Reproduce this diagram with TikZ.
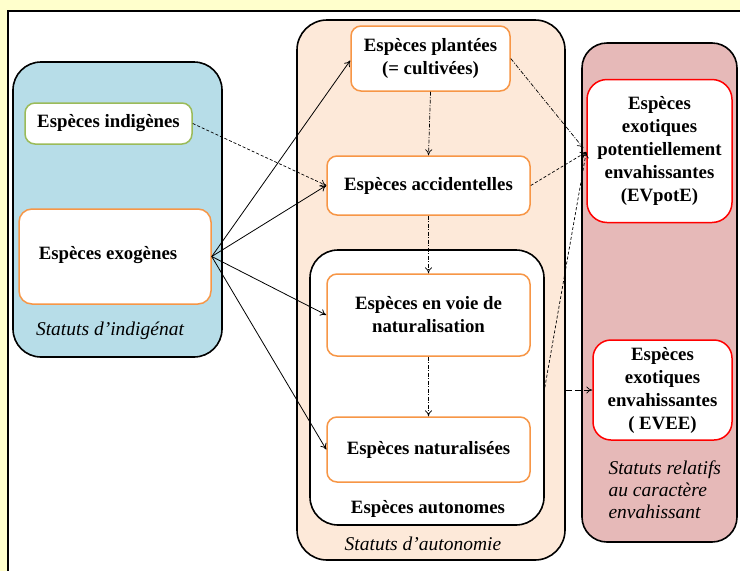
\documentclass[tikz,border=0pt]{standalone}
\usepackage{fontspec}
\setmainfont{Liberation Serif}
\usetikzlibrary{arrows.meta,calc}
\definecolor{bgyellow}{RGB}{255,255,204}
\definecolor{bluefill}{RGB}{183,221,232}
\definecolor{peachfill}{RGB}{253,233,217}
\definecolor{pinkfill}{RGB}{230,185,184}
\definecolor{boxorange}{RGB}{247,150,70}
\definecolor{boxgreen}{RGB}{155,187,89}
\definecolor{boxred}{RGB}{255,0,0}
\tikzset{
  lbl/.style={font=\fontsize{18.8}{23}\selectfont\bfseries, align=center},
  ital/.style={font=\fontsize{19.5}{22}\selectfont\itshape},
  obox/.style={draw=boxorange, line width=1.5pt, fill=white, rounded corners=10pt, inner sep=0pt, lbl},
  rbox/.style={draw=boxred, line width=1.5pt, fill=white, rounded corners=20pt, inner sep=0pt, lbl},
  container/.style={draw=black, line width=1.6pt, rounded corners=28pt, inner sep=0pt},
  arr/.style={-{To[length=6pt,width=7pt]}, line width=0.8pt},
  dsh/.style={arr, line width=0.7pt, dash pattern=on 3pt off 2pt},
  ddot/.style={arr, line width=0.7pt, dash pattern=on 4pt off 1.5pt on 1pt off 1.5pt},
  ldsh/.style={arr, line width=0.7pt, dash pattern=on 6pt off 3pt},
}
\begin{document}
\begin{tikzpicture}[x=1pt,y=-1pt]
\useasboundingbox (0,0) rectangle (740,571);
\clip (0,0) rectangle (740,571);
\fill[bgyellow] (0,0) rectangle (740,571);
\draw[line width=2.5pt, fill=white] (8,11) rectangle (760,600);

% containers
\node[container, fill=bluefill, minimum width=209pt, minimum height=295pt] (blue) at (117.5,209.5) {};
\node[container, fill=peachfill, rounded corners=30pt, minimum width=268pt, minimum height=540pt] (peach) at (431,290) {};
\node[container, fill=pinkfill, rounded corners=25pt, minimum width=155pt, minimum height=499pt] (pink) at (659.5,292.5) {};
\node[container, fill=white, minimum width=234pt, minimum height=275pt] (auto) at (427,387.5) {};

% left boxes
\node[obox, draw=boxgreen, minimum width=167pt, minimum height=41pt] (indig) at (108.5,123.5) {Espèces indigènes};
\node[obox, rounded corners=13pt, minimum width=192pt, minimum height=95pt] (exog) at (115,256.5) {};
\node[lbl] (exogt) at (108,255) {Espèces exogènes};
\node[ital] (sind) at (110,331) {Statuts d’indigénat};

% middle boxes
\node[obox, minimum width=159pt, minimum height=65pt] (plant) at (430.5,58.5) {Espèces plantées\\(= cultivées)};
\node[obox, minimum width=203pt, minimum height=59pt] (accid) at (428.5,185.5) {Espèces accidentelles};
\node[obox, minimum width=203pt, minimum height=82pt] (voie) at (428.5,315) {Espèces en voie de\\naturalisation};
\node[obox, minimum width=203pt, minimum height=65pt] (natur) at (428.5,449.5) {Espèces naturalisées};
\node[lbl] (autot) at (428,509) {Espèces autonomes};
\node[ital] (saut) at (423,544) {Statuts d’autonomie};

% right boxes
\node[rbox, minimum width=145pt, minimum height=143pt] (evpot) at (659.5,151) {Espèces\\exotiques\\potentiellement\\envahissantes\\(EVpotE)};
\node[rbox, rounded corners=18pt, minimum width=139pt, minimum height=100pt] (evee) at (662.5,390) {Espèces\\exotiques\\envahissantes\\( EVEE)};
\node[ital, align=left, anchor=west] (srel) at (605,490) {Statuts relatifs\\au caractère\\envahissant};

% arrows
\draw[dsh] (indig.east) -- (accid.west);
\draw[arr] (exog.east) -- ([yshift=-2pt]plant.west);
\draw[arr] (exog.east) -- (accid.west);
\draw[arr] (exog.east) -- (voie.west);
\draw[arr] (exog.east) -- (natur.west);

\draw[ddot] (plant.south) -- (accid.north);
\draw[ddot] (accid.south) -- (voie.north);
\draw[ddot] (voie.south) -- (natur.north);

\draw[ddot] (plant.east) -- ([shift={(-3pt,3pt)}]evpot.west);
\draw[dsh] (accid.east) -- ([yshift=-1pt]evpot.west);
\draw[dsh] (auto.east) -- ([yshift=-1pt]evpot.west);
\draw[ldsh] (peach.east |- evee.west) -- (evee.west);
\end{tikzpicture}
\end{document}
